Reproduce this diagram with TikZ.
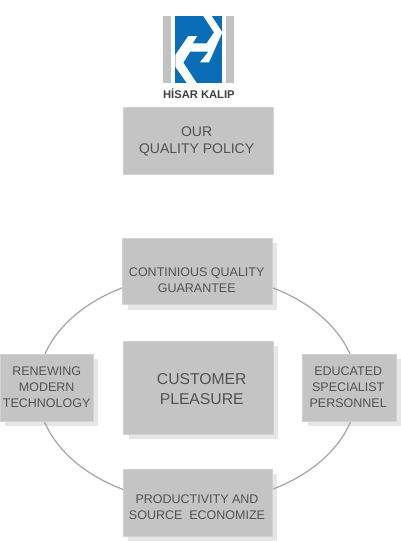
\documentclass[tikz,border=0pt]{standalone}
\usepackage{fontspec}
\setmainfont{Liberation Sans}
\usetikzlibrary{backgrounds}
\definecolor{boxfill}{HTML}{C4C4C4}
\definecolor{boxedge}{HTML}{D2D2D2}
\definecolor{shadowfill}{HTML}{E6E6E6}
\definecolor{ringline}{HTML}{A6A6A6}
\definecolor{inktext}{HTML}{525252}
\definecolor{logoblue}{HTML}{0A6DB7}
\definecolor{logogray}{HTML}{C2C2C2}
\definecolor{logotext}{HTML}{404040}
\tikzset{
  x=1pt,y=-1pt,
  box/.style={fill=boxfill,draw=boxedge,line width=0.5pt,inner sep=0pt,outer sep=0pt},
  boxtext/.style={text=inktext,align=center,inner sep=0pt},
  small/.style={boxtext,font=\fontsize{12.5}{16}\selectfont},
  mid/.style={boxtext,font=\fontsize{14}{17.7}\selectfont},
  big/.style={boxtext,font=\fontsize{15.7}{19.5}\selectfont},
  shadowbox/.style={fill=shadowfill},
  ring/.style={draw=ringline,line width=1.25pt},
}
\begin{document}
\begin{tikzpicture}
\useasboundingbox (0,0) rectangle (400,541);
% logo
\fill[logogray] (163.3,16) rectangle (171.3,83);
\fill[logogray] (225.7,16) rectangle (233.7,83);
\fill[logoblue] (175.3,16) rectangle (222.3,83);
\fill[white] (203.3,16) -- (211.7,16) -- (222.3,32.3) -- (209,62.3) -- (200,62.3) -- (208.3,51.7)
  -- (190,51.7) -- (183.3,62.7) -- (196.7,83) -- (186.7,83) -- (175.3,66.7) -- (175.3,55)
  -- (188.3,36) -- (197.3,36) -- (192.7,43.3) -- (206.7,43.3) -- (214,32.3) -- cycle;
\node[font=\fontsize{11.2}{13}\selectfont\bfseries,text=logotext,inner sep=0pt] (logotitle) at (198.9,93.5) {HİSAR KALIP};
% boxes
\node[box,minimum width=149.6pt,minimum height=66.6pt] (policy) at (198.5,140.7) {};
\node[box,minimum width=149.3pt,minimum height=66.4pt] (top) at (197.3,271.5) {};
\node[box,minimum width=93pt,minimum height=66.7pt] (left) at (46.5,387.7) {};
\node[box,minimum width=93.3pt,minimum height=66.7pt] (right) at (349.3,387.7) {};
\node[box,minimum width=149.6pt,minimum height=93.3pt] (centre) at (198.5,387.7) {};
\node[box,minimum width=149pt,minimum height=66.7pt] (bottom) at (197.8,502.7) {};
\begin{pgfonlayer}{background}
  \foreach \n in {top,left,right,centre,bottom}
    \fill[shadowbox] ([xshift=5pt,yshift=-5pt]\n.north west) rectangle ([xshift=5pt,yshift=-5pt]\n.south east);
  \draw[ring] (197.5,388.5) ellipse [x radius=160pt,y radius=114pt];
\end{pgfonlayer}
% labels
\node[mid] (policytext) at (196.6,141.3) {OUR\\QUALITY POLICY};
\node[small] (toptext) at (196.7,280) {CONTINIOUS QUALITY\\GUARANTEE};
\node[small] (lefttext) at (46.7,386.9) {RENEWING\\MODERN\\TECHNOLOGY};
\node[small] (righttext) at (348.2,386.9) {EDUCATED\\SPECIALIST\\PERSONNEL};
\node[big] (centretext) at (201.7,389) {CUSTOMER\\PLEASURE};
\node[small] (bottomtext) at (197,506.9) {PRODUCTIVITY AND\\SOURCE\ \ ECONOMIZE};
\end{tikzpicture}
\end{document}
